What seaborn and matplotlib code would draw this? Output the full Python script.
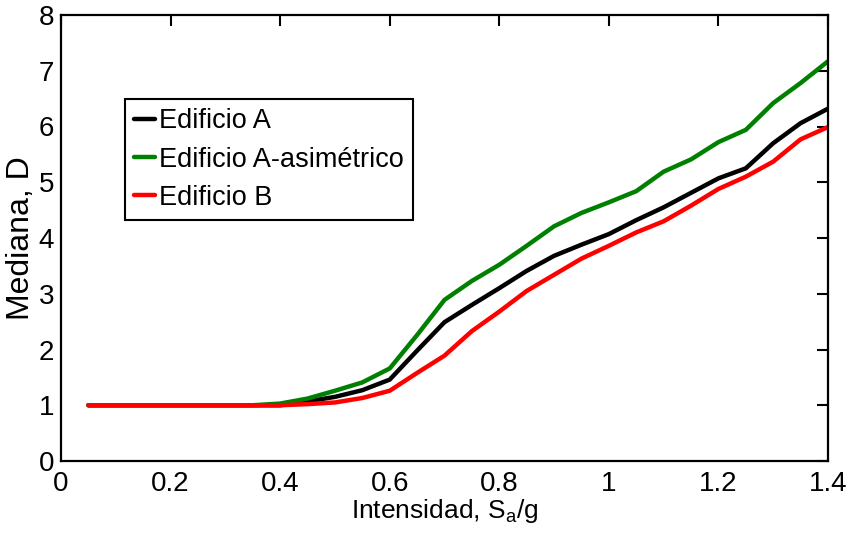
import matplotlib
matplotlib.use("Agg")
import matplotlib.pyplot as plt
import seaborn as sns
import pandas as pd

# Spectral intensity Sa/g
intensidad = [0.05, 0.10, 0.15, 0.20, 0.25, 0.30, 0.35, 0.40, 0.45, 0.50,
              0.55, 0.60, 0.65, 0.70, 0.75, 0.80, 0.85, 0.90, 0.95, 1.00,
              1.05, 1.10, 1.15, 1.20, 1.25, 1.30, 1.35, 1.40]

# Median damage index for each building
edificio_a = [1.00, 1.00, 1.00, 1.00, 1.00, 1.00, 1.00, 1.00, 1.07, 1.15,
              1.27, 1.46, 1.98, 2.49, 2.80, 3.10, 3.41, 3.68, 3.88, 4.07,
              4.32, 4.55, 4.81, 5.07, 5.25, 5.70, 6.06, 6.32]
edificio_a_asim = [1.00, 1.00, 1.00, 1.00, 1.00, 1.00, 1.00, 1.03, 1.12, 1.26,
                   1.41, 1.66, 2.26, 2.89, 3.23, 3.52, 3.86, 4.21, 4.45, 4.64,
                   4.84, 5.19, 5.41, 5.72, 5.94, 6.42, 6.78, 7.17]
edificio_b = [1.00, 1.00, 1.00, 1.00, 1.00, 1.00, 1.00, 1.00, 1.02, 1.05,
              1.13, 1.26, 1.58, 1.89, 2.33, 2.68, 3.05, 3.34, 3.63, 3.86,
              4.10, 4.30, 4.58, 4.88, 5.10, 5.37, 5.77, 5.99]

series_names = ["Edificio A", "Edificio A-asimétrico", "Edificio B"]
series_colors = ["#000000", "#008000", "#ff0000"]

x_ticks = [0, 0.2, 0.4, 0.6, 0.8, 1.0, 1.2, 1.4]
x_tick_labels = ["0", "0.2", "0.4", "0.6", "0.8", "1", "1.2", "1.4"]
y_ticks = [0, 1, 2, 3, 4, 5, 6, 7, 8]

frames = []
for name, vals in zip(series_names, [edificio_a, edificio_a_asim, edificio_b]):
    frames.append(pd.DataFrame({"Sa": intensidad, "D": vals, "Edificio": name}))
df = pd.concat(frames, ignore_index=True)

sns.set_style("white", {"text.color": "black", "axes.labelcolor": "black",
                        "xtick.color": "black", "ytick.color": "black"})
plt.rcParams["font.family"] = ["Liberation Sans", "DejaVu Sans"]
plt.rcParams["mathtext.default"] = "regular"

fig = plt.figure(figsize=(8.5, 5.41), dpi=100)
ax = fig.add_axes([61 / 850, 1 - 461 / 541, (828 - 61) / 850, (461 - 15) / 541])

sns.lineplot(data=df, x="Sa", y="D", hue="Edificio", hue_order=series_names,
             palette=series_colors, linewidth=3.2, ax=ax, legend=False)

ax.set_xlim(0, 1.4)
ax.set_ylim(0, 8)
ax.set_xticks(x_ticks)
ax.set_xticklabels(x_tick_labels)
ax.set_yticks(y_ticks)
ax.tick_params(direction="in", length=8, width=1.5, labelsize=20,
               top=True, right=True, colors="black")
ax.tick_params(axis="x", pad=7)
ax.tick_params(axis="y", pad=5)
for s in ax.spines.values():
    s.set_visible(True)
    s.set_color("black")
    s.set_linewidth(1.6)

ax.set_xlabel(r"Intensidad, S$_{a}$/g", fontsize=19, labelpad=0, color="black")
ax.set_ylabel("Mediana, D", fontsize=23, labelpad=2, color="black")

handles = [plt.Line2D([], [], color=c, linewidth=3.2) for c in series_colors]
leg = ax.legend(handles, series_names, loc="upper left",
                bbox_to_anchor=(125 / 850, 1 - 99 / 541),
                bbox_transform=fig.transFigure, borderaxespad=0,
                fontsize=19.5, handlelength=0.75, handletextpad=0.15,
                borderpad=0.35, labelspacing=0.45, fancybox=False,
                framealpha=1, edgecolor="black", labelcolor="black")
leg.get_frame().set_linewidth(1.5)

fig.savefig("out.png", dpi=100)
